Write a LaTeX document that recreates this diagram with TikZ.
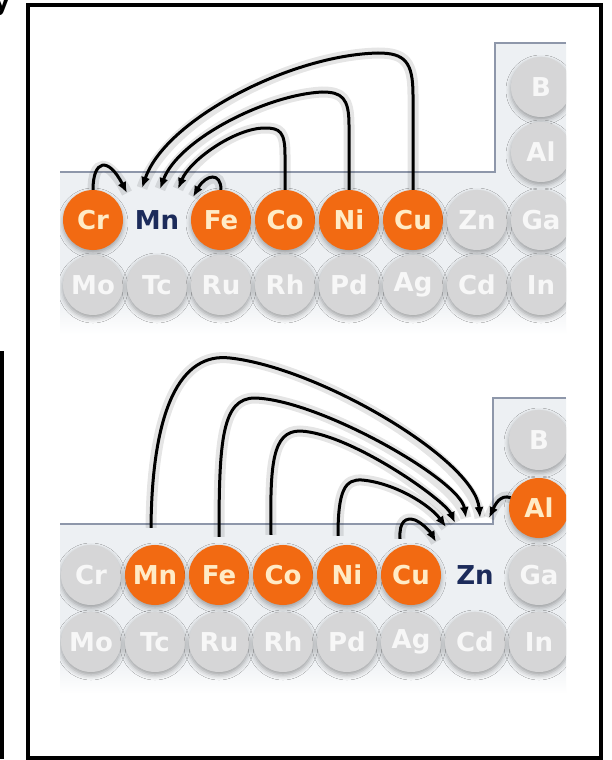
\documentclass[tikz,border=0pt]{standalone}
\usepackage{fontspec}
\setmainfont{DejaVu Sans}
\newfontfamily\elemfamily{DejaVu Sans}
\usetikzlibrary{arrows.meta,shadows.blur,calc}
\definecolor{elemorange}{HTML}{F26A12}
\definecolor{elemgray}{HTML}{D6D6D7}
\definecolor{orangetext}{HTML}{FFEBC6}
\definecolor{graytext}{HTML}{F7F7F7}
\definecolor{navy}{HTML}{1C2B5A}
\definecolor{tableline}{HTML}{8E97AA}
\definecolor{tablebg}{HTML}{EDF0F3}
\newcommand\elemfont{\elemfamily\bfseries\fontsize{26}{26}\selectfont}
\begin{document}
\begin{tikzpicture}[x=1pt,y=-1pt,
  elem/.style={circle, minimum size=60pt, inner sep=0pt, font=\elemfont},
  grayel/.style={elem, fill=elemgray, text=graytext,
    blur shadow={shadow xshift=0pt, shadow yshift=-3pt, shadow blur radius=5pt, shadow opacity=35}},
  orangeel/.style={elem, fill=elemorange, text=orangetext,
    blur shadow={shadow xshift=0pt, shadow yshift=-3pt, shadow blur radius=5pt, shadow opacity=35}},
  plainel/.style={elem, text=navy},
  tline/.style={draw=tableline, line width=1.5pt},
  conn/.style={line width=3pt, draw=black, -{Latex[length=11pt,width=9pt]},
    preaction={draw=black, line width=11pt, opacity=0.1, -}},
  frame/.style={draw=black, line width=3.5pt}
]
\useasboundingbox (0,0) rectangle (611,760);
\fill[white] (0,0) rectangle (611,760);

% ---------- upper table ----------
\begin{scope}
  \clip (60,38) rectangle (566,345);
  \fill[tablebg] (60,172) -- (495,172) -- (495,43) -- (566,43) -- (566,300) -- (60,300) -- cycle;
  \shade[top color=tablebg, bottom color=white] (60,300) rectangle (566,334);
  \draw[tline] (60,172) -- (495,172) -- (495,43) -- (566,43);
  \foreach \s/\st [count=\i from 0] in {Cr/orangeel,Mn/plainel,Fe/orangeel,Co/orangeel,Ni/orangeel,Cu/orangeel,Zn/grayel,Ga/grayel}
    \node[\st] (t\s) at ({93+64*\i},220) {\s};
  \foreach \s [count=\i from 0] in {Mo,Tc,Ru,Rh,Pd,Ag,Cd,In}
    \node[grayel] (t\s) at ({93+64*\i},285) {\s};
  \node[grayel] (tB) at (541,87) {B};
  \node[grayel] (tAl) at (541,152) {Al};
\end{scope}

\coordinate (tInA) at (127,193);
\coordinate (tInB) at (142,188);
\coordinate (tInC) at (160,189);
\coordinate (tInD) at (178,189);
\coordinate (tInE) at (193,197);

\draw[conn] (tCr.north) .. controls (93,160) and (108,156) .. (tInA);
\draw[conn] (tFe.north) .. controls (221,172) and (206,174) .. (tInE);
\draw[conn] (tCo.north) -- (285,155) .. controls (285,132) and (280,128) .. (265,128)
  .. controls (235,128) and (190,160) .. (tInD);
\draw[conn] (tNi.north) -- (349,125) .. controls (349,98) and (342,92) .. (322,92)
  .. controls (265,95) and (178,140) .. (tInC);
\draw[conn] (tCu.north) -- (413,95) .. controls (413,62) and (405,53) .. (378,53)
  .. controls (290,55) and (165,120) .. (tInB);

% ---------- lower table ----------
\begin{scope}
  \clip (60,392) rectangle (566,700);
  \fill[tablebg] (60,524) -- (493,524) -- (493,398) -- (566,398) -- (566,657) -- (60,657) -- cycle;
  \shade[top color=tablebg, bottom color=white] (60,657) rectangle (566,694);
  \draw[tline] (60,524) -- (493,524) -- (493,398) -- (566,398);
  \foreach \s/\st [count=\i from 0] in {Cr/grayel,Mn/orangeel,Fe/orangeel,Co/orangeel,Ni/orangeel,Cu/orangeel,Zn/plainel,Ga/grayel}
    \node[\st] (b\s) at ({91+64*\i},575) {\s};
  \foreach \s [count=\i from 0] in {Mo,Tc,Ru,Rh,Pd,Ag,Cd,In}
    \node[grayel] (b\s) at ({91+64*\i},642) {\s};
  \node[grayel] (bB) at (539,440) {B};
  \node[orangeel] (bAl) at (539,508) {Al};
\end{scope}

\coordinate (bInA) at (480,518);
\coordinate (bInB) at (466,518);
\coordinate (bInC) at (455,523);
\coordinate (bInD) at (446,527);
\coordinate (bInE) at (436,542);
\coordinate (bInF) at (489,518);

\draw[conn] ([shift={(-4pt,17pt)}]bMn.north) .. controls (152,410) and (180,352) .. (230,358)
  .. controls (320,368) and (475,460) .. (bInA);
\draw[conn] ([yshift=8pt]bFe.north) .. controls (219,440) and (222,398) .. (255,398)
  .. controls (320,400) and (460,480) .. (bInB);
\draw[conn] ([shift={(-12pt,10pt)}]bCo.north) .. controls (270,465) and (272,431) .. (300,431)
  .. controls (350,433) and (445,500) .. (bInC);
\draw[conn] ([shift={(-9pt,9pt)}]bNi.north) .. controls (338,490) and (345,479) .. (362,480)
  .. controls (395,483) and (430,505) .. (bInD);
\draw[conn] ([shift={(-11pt,6pt)}]bCu.north) .. controls (399,521) and (406,517) .. (415,520)
  .. controls (424,524) and (431,533) .. (bInE);
\draw[conn] (bAl.160) .. controls (500,494) and (495,505) .. (bInF);

% ---------- frames ----------
\draw[frame] (28,5) rectangle (601,758);
\draw[frame] (-20,352.5) rectangle (2.2,757);
\node[font=\bfseries\fontsize{24}{24}\selectfont, anchor=north east, inner sep=0pt] (ymark) at (10,-3) {y};
\end{tikzpicture}
\end{document}
